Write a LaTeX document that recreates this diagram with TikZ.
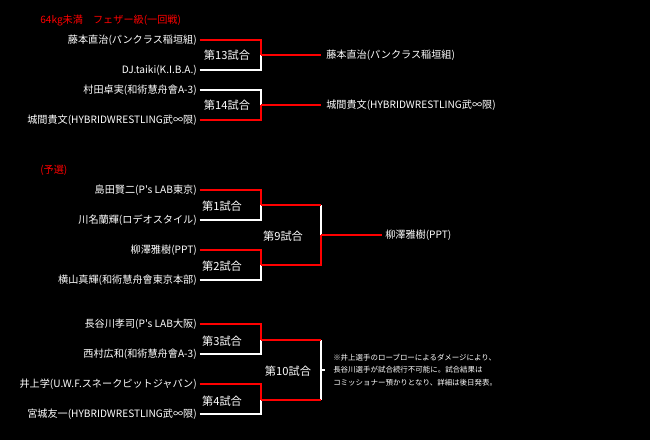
\documentclass[tikz,border=0pt]{standalone}
\usepackage{fontspec}
\newfontfamily\jp{Noto Sans CJK JP}
\usetikzlibrary{positioning}
\tikzset{
  player/.style={anchor=east,text=white,inner sep=0pt,font=\jp\fontsize{7.6}{9}\selectfont},
  winner/.style={anchor=west,text=white,inner sep=0pt,font=\jp\fontsize{7.6}{9}\selectfont},
  bout/.style={text=white,inner sep=0pt,font=\jp\fontsize{8.4}{10}\selectfont},
  heading/.style={anchor=west,text=red,inner sep=0pt,font=\jp\fontsize{7.6}{9}\selectfont},
  redline/.style={draw=red,line width=2pt},
  whiteline/.style={draw=white,line width=2pt},
}
\begin{document}
\begin{tikzpicture}[x=0.75pt,y=-0.75pt,line join=miter]
    % background
    \fill[black] (0,0) rectangle (650,440);
    \useasboundingbox (0,0) rectangle (650,440);

    %feather class, first round
    \node[heading] (h1) at (40,21) {64kg未満\quad フェザー級(一回戦)};
    \node[player] (p13a) at (197,40) {藤本直治(パンクラス稲垣組)};
    \node[player] (p13b) at (197,70) {DJ.taiki(K.I.B.A.)};
    \node[player] (p14a) at (197,90) {村田卓実(和術慧舟會A-3)};
    \node[player] (p14b) at (197,120) {城間貴文(HYBRIDWRESTLING武∞限)};
    \coordinate (m13) at (261,55);
    \coordinate (m14) at (261,105);
    \node[bout] (b13) at (227,55) {第13試合};
    \node[bout] (b14) at (227,105) {第14試合};
    \node[winner] (w13) at (326,55) {藤本直治(パンクラス稲垣組)};
    \node[winner] (w14) at (326,105) {城間貴文(HYBRIDWRESTLING武∞限)};
    \draw[redline] ([xshift=2pt]p13a.east) -| (m13);
    \draw[whiteline] ([xshift=2pt]p13b.east) -| (m13);
    \draw[whiteline] ([xshift=2pt]p14a.east) -| (m14);
    \draw[redline] ([xshift=2pt]p14b.east) -| (m14);
    \draw[redline] (m13) -- ([xshift=-4pt]w13.west);
    \draw[redline] (m14) -- ([xshift=-4pt]w14.west);

    %qualifiers
    \node[heading] (h2) at (40,170) {(予選)};
    \node[player] (p1a) at (197,190) {島田賢二(P's LAB東京)};
    \node[player] (p1b) at (197,220) {川名蘭輝(ロデオスタイル)};
    \node[player] (p2a) at (197,250) {柳澤雅樹(PPT)};
    \node[player] (p2b) at (197,280) {横山真輝(和術慧舟會東京本部)};
    \coordinate (m1) at (261,205);
    \coordinate (m2) at (261,265);
    \coordinate (m9) at (321,235);
    \node[bout] (b1) at (222,206) {第1試合};
    \node[bout] (b2) at (222,266) {第2試合};
    \node[bout] (b9) at (283,236) {第9試合};
    \node[winner] (w9) at (385,235) {柳澤雅樹(PPT)};
    \draw[redline] ([xshift=2pt]p1a.east) -| (m1);
    \draw[whiteline] ([xshift=2pt]p1b.east) -| (m1);
    \draw[redline] ([xshift=2pt]p2a.east) -| (m2);
    \draw[whiteline] ([xshift=2pt]p2b.east) -| (m2);
    \draw[whiteline] (m1 -| m9) -- (m9);
    \draw[redline] (m1) -- (m1 -| m9);
    \draw[redline] (m2) -| (m9);
    \draw[redline] (m9) -- ([xshift=-2pt]w9.west);

    %second half
    \node[player] (p3a) at (197,324) {長谷川孝司(P's LAB大阪)};
    \node[player] (p3b) at (197,354) {西村広和(和術慧舟會A-3)};
    \node[player] (p4a) at (197,384) {井上学(U.W.F.スネークピットジャパン)};
    \node[player] (p4b) at (197,414) {宮城友一(HYBRIDWRESTLING武∞限)};
    \coordinate (m3) at (261,340);
    \coordinate (m4) at (261,400);
    \coordinate (m10) at (321,370);
    \node[bout] (b3) at (222,341) {第3試合};
    \node[bout] (b4) at (222,401) {第4試合};
    \node[bout] (b10) at (288,371) {第10試合};
    \draw[redline] ([xshift=2pt]p3a.east) -| (m3);
    \draw[whiteline] ([xshift=2pt]p3b.east) -| (m3);
    \draw[redline] ([xshift=2pt]p4a.east) -| (m4);
    \draw[whiteline] ([xshift=2pt]p4b.east) -| (m4);
    \draw[whiteline] (m3 -| m10) -- (m4 -| m10);
    \draw[redline] (m3) -- (m3 -| m10);
    \draw[redline] (m4) -- (m4 -| m10);
    \draw[draw=white,line width=1pt] (m10) -- ++(4,0);
    % note
    \node[anchor=west,text=white,inner sep=0pt,align=left,
      font=\jp\fontsize{5.6}{9.6}\selectfont] (note) at (333,370)
      {※井上選手のローブローによるダメージにより、\\長谷川選手が試合続行不可能に。試合結果は\\コミッショナー預かりとなり、詳細は後日発表。};
\end{tikzpicture}
\end{document}
